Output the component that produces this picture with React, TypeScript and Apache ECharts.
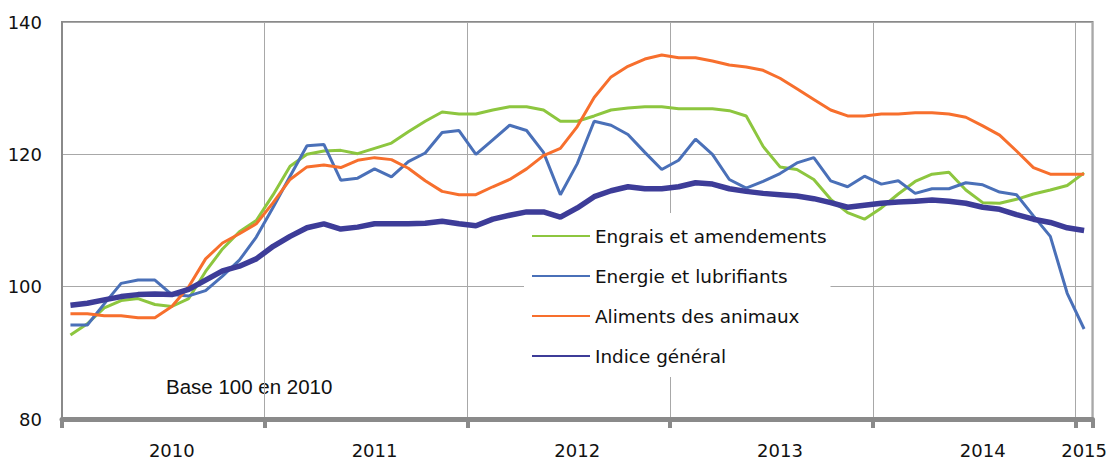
import React, { useEffect, useRef } from "react";
import * as echarts from "echarts";

const years = ["2010", "2011", "2012", "2013", "2014"];
const monthNums = ["01", "02", "03", "04", "05", "06", "07", "08", "09", "10", "11", "12"];
const categories: string[] = [];
years.forEach((y) => monthNums.forEach((m) => categories.push(`${y}-${m}`)));
categories.push("2015-01");

const seriesNames = [
  "Engrais et amendements",
  "Energie et lubrifiants",
  "Aliments des animaux",
  "Indice général",
];

const engrais = [
  92.7, 94.4, 96.8, 97.9, 98.2, 97.3, 97.0, 98.2, 102.3, 105.7, 108.3, 110.0,
  113.9, 118.2, 120.0, 120.5, 120.6, 120.1, 120.9, 121.7, 123.4, 125.0, 126.4, 126.1,
  126.1, 126.7, 127.2, 127.2, 126.7, 125.0, 125.0, 125.8, 126.7, 127.0, 127.2, 127.2,
  126.9, 126.9, 126.9, 126.6, 125.8, 121.2, 118.1, 117.7, 116.2, 113.2, 111.2, 110.2,
  111.9, 114.0, 115.9, 117.0, 117.3, 114.6, 112.7, 112.6, 113.2, 114.0, 114.6, 115.3,
  117.2,
];

const energie = [
  94.2, 94.2, 97.4, 100.5, 101.0, 101.0, 98.8, 98.6, 99.4, 101.6, 104.0, 107.5,
  112.0, 116.7, 121.3, 121.5, 116.1, 116.4, 117.8, 116.6, 118.9, 120.2, 123.3, 123.6,
  120.0, 122.2, 124.4, 123.6, 120.3, 113.9, 118.6, 125.0, 124.4, 123.0, 120.3, 117.7,
  119.1, 122.3, 120.0, 116.2, 114.9, 115.9, 117.1, 118.7, 119.5, 116.0, 115.1, 116.7,
  115.5, 116.0, 114.1, 114.8, 114.8, 115.7, 115.4, 114.3, 113.9, 110.7, 107.6, 99.0,
  93.6,
];

const aliments = [
  95.9, 95.9, 95.6, 95.6, 95.3, 95.3, 97.0, 100.0, 104.2, 106.6, 108.0, 109.5,
  112.7, 116.2, 118.1, 118.4, 118.0, 119.1, 119.5, 119.2, 117.9, 116.0, 114.4, 113.9,
  113.9, 115.1, 116.2, 117.8, 119.8, 120.9, 124.2, 128.6, 131.7, 133.3, 134.4, 135.0,
  134.6, 134.6, 134.1, 133.5, 133.2, 132.7, 131.5, 129.9, 128.3, 126.7, 125.8, 125.8,
  126.1, 126.1, 126.3, 126.3, 126.1, 125.6, 124.3, 122.9, 120.5, 118.0, 117.0, 117.0,
  117.0,
];

const indice = [
  97.2, 97.5, 98.0, 98.5, 98.8, 98.9, 98.8, 99.6, 101.0, 102.4, 103.1, 104.2,
  106.1, 107.6, 108.9, 109.5, 108.7, 109.0, 109.5, 109.5, 109.5, 109.6, 109.9, 109.5,
  109.2, 110.2, 110.8, 111.3, 111.3, 110.5, 111.9, 113.6, 114.5, 115.1, 114.8, 114.8,
  115.1, 115.7, 115.5, 114.8, 114.4, 114.1, 113.9, 113.7, 113.3, 112.7, 112.0, 112.3,
  112.6, 112.8, 112.9, 113.1, 112.9, 112.6, 112.0, 111.7, 110.9, 110.2, 109.7, 108.9,
  108.5,
];

const seriesData = [engrais, energie, aliments, indice];
const colors = ["#8DC63F", "#4A70B8", "#F76F2D", "#3D3C98"];
const widths = [3, 3, 3, 5.5];

const yTicks = { min: 80, max: 140, interval: 20 };
const note = "Base 100 en 2010";

export default function App() {
  const ref = useRef<HTMLDivElement>(null);
  useEffect(() => {
    if (!ref.current) return;
    const chart = echarts.init(ref.current, null, { renderer: "svg" });
    const yearStart = (i: number) => i % 12 === 0;
    chart.setOption({
      animation: false,
      backgroundColor: "#ffffff",
      textStyle: { fontFamily: "DejaVu Sans" },
      grid: {
        left: 62,
        right: 17,
        top: 22,
        bottom: 40,
        show: true,
        borderColor: "#8a8a8a",
        borderWidth: 2,
        backgroundColor: "transparent",
      },
      legend: {
        orient: "vertical",
        left: 524,
        top: 213,
        padding: [14, 4, 12, 7],
        backgroundColor: "#ffffff",
        itemWidth: 58,
        itemHeight: 18,
        itemGap: 22,
        data: seriesNames,
        itemStyle: { opacity: 0 },
        textStyle: { fontSize: 18.4, fontFamily: "DejaVu Sans", color: "#111111" },
      },
      xAxis: {
        type: "category",
        data: categories,
        boundaryGap: true,
        axisLine: { show: true, lineStyle: { color: "#8a8a8a", width: 5 } },
        axisTick: {
          show: true,
          interval: (i: number) => yearStart(i),
          length: 9,
          lineStyle: { color: "#8a8a8a", width: 4 },
        },
        splitLine: {
          show: true,
          interval: (i: number) => yearStart(i),
          lineStyle: { color: "#a8a8a8", width: 1 },
        },
        axisLabel: {
          interval: (i: number) => i % 12 === 6 || i === categories.length - 1,
          formatter: (v: string) => v.substring(0, 4),
          fontSize: 18,
          fontFamily: "DejaVu Sans",
          color: "#111111",
          margin: 22,
        },
      },
      yAxis: {
        type: "value",
        min: yTicks.min,
        max: yTicks.max,
        interval: yTicks.interval,
        axisLine: { show: true, lineStyle: { color: "#8a8a8a", width: 2 } },
        axisTick: { show: false },
        splitLine: { show: true, lineStyle: { color: "#a8a8a8", width: 1 } },
        axisLabel: {
          fontSize: 18,
          fontFamily: "DejaVu Sans",
          color: "#111111",
          margin: 20,
        },
      },
      graphic: [
        {
          type: "text",
          left: 166,
          top: 376,
          style: {
            text: note,
            fontSize: 20.5,
            fontFamily: "Liberation Sans",
            fill: "#111111",
          },
        },
      ],
      series: seriesNames.map((name, k) => ({
        name,
        type: "line",
        data: seriesData[k],
        symbol: "none",
        showSymbol: false,
        smooth: false,
        color: colors[k],
        lineStyle: { color: colors[k], width: widths[k] },
        z: 2 + k,
      })),
    });
    return () => chart.dispose();
  }, []);
  return (
    <div
      ref={ref}
      style={{ position: "fixed", left: 0, top: 0, width: 1110, height: 459 }}
    />
  );
}
